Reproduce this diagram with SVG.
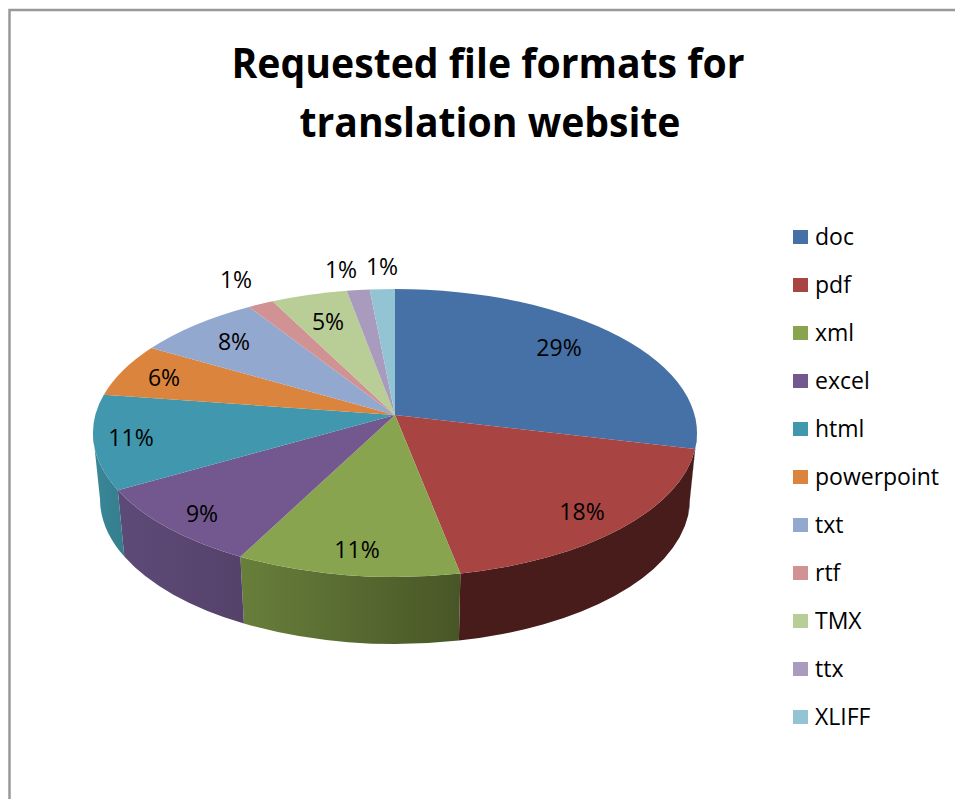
<svg xmlns="http://www.w3.org/2000/svg" width="955" height="799" viewBox="0 0 955 799">
<style>
.lbl{font-family:"Open Sans","Liberation Sans",sans-serif;font-size:23px;fill:#000;text-anchor:middle}
.leg{font-family:"Open Sans","Liberation Sans",sans-serif;font-size:23px;fill:#000}
.title{font-family:"Open Sans","Liberation Sans",sans-serif;font-size:42px;font-weight:bold;fill:#000;text-anchor:middle}
</style>
<defs>
<linearGradient id="gXml" x1="0" y1="0" x2="1" y2="0"><stop offset="0" stop-color="#687f3b"/><stop offset="1" stop-color="#485627"/></linearGradient>
<linearGradient id="gExcel" x1="0" y1="0" x2="1" y2="0"><stop offset="0" stop-color="#5e4a78"/><stop offset="1" stop-color="#55426a"/></linearGradient>
<linearGradient id="gHtml" x1="0" y1="0" x2="1" y2="0"><stop offset="0" stop-color="#3a8898"/><stop offset="1" stop-color="#347d8d"/></linearGradient>
</defs>
<rect x="0" y="0" width="955" height="799" fill="#fff"/>
<path d="M9.5 799 V10 H955" fill="none" stroke="#999" stroke-width="2.5"/>
<text class="title" x="488" y="78" textLength="513" lengthAdjust="spacingAndGlyphs">Requested file formats for</text>
<text class="title" x="490" y="137" textLength="381" lengthAdjust="spacingAndGlyphs">translation website</text>
<g id="walls">
<path d="M697 433 A302 144 0 0 1 695.1 449.1 L688.2 515.2 A295 145 0 0 0 690 499 Z" fill="#2c4a70"/>
<path d="M695.1 449.1 A302 144 0 0 1 460.4 573.6 L458.9 640.6 A295 145 0 0 0 688.2 515.2 Z" fill="#471c1b"/>
<path d="M460.4 573.6 A302 144 0 0 1 240.4 556.7 L243.9 623.5 A295 145 0 0 0 458.9 640.6 Z" fill="url(#gXml)"/>
<path d="M240.4 556.7 A302 144 0 0 1 117.8 490.2 L124.3 556.6 A295 145 0 0 0 243.9 623.5 Z" fill="url(#gExcel)"/>
<path d="M117.8 490.2 A302 144 0 0 1 93 433 L100 499 A295 145 0 0 0 124.3 556.6 Z" fill="url(#gHtml)"/>
</g>
<g id="slice-doc"><path d="M395 415 L395 289 A302 144 0 0 1 695.1 449.1 Z" fill="#4571a6"/></g>
<g id="slice-pdf"><path d="M395 415 L695.1 449.1 A302 144 0 0 1 460.4 573.6 Z" fill="#a84441"/></g>
<g id="slice-xml"><path d="M395 415 L460.4 573.6 A302 144 0 0 1 240.4 556.7 Z" fill="#88a44e"/></g>
<g id="slice-excel"><path d="M395 415 L240.4 556.7 A302 144 0 0 1 117.8 490.2 Z" fill="#72588e"/></g>
<g id="slice-html"><path d="M395 415 L117.8 490.2 A302 144 0 0 1 103.8 394.8 Z" fill="#4197ad"/></g>
<g id="slice-powerpoint"><path d="M395 415 L103.8 394.8 A302 144 0 0 1 151.3 348 Z" fill="#db843d"/></g>
<g id="slice-txt"><path d="M395 415 L151.3 348 A302 144 0 0 1 249 306.9 Z" fill="#93a8cf"/></g>
<g id="slice-rtf"><path d="M395 415 L249 306.9 A302 144 0 0 1 272.6 301.3 Z" fill="#d09292"/></g>
<g id="slice-TMX"><path d="M395 415 L272.6 301.3 A302 144 0 0 1 346.7 290.8 Z" fill="#b9cd96"/></g>
<g id="slice-ttx"><path d="M395 415 L346.7 290.8 A302 144 0 0 1 369.7 289.5 Z" fill="#a99bbd"/></g>
<g id="slice-XLIFF"><path d="M395 415 L369.7 289.5 A302 144 0 0 1 395 289 Z" fill="#93c4d4"/></g>
<g id="labels">
<text class="lbl" x="559" y="356">29%</text>
<text class="lbl" x="582" y="520">18%</text>
<text class="lbl" x="357" y="558">11%</text>
<text class="lbl" x="202" y="522">9%</text>
<text class="lbl" x="131" y="446">11%</text>
<text class="lbl" x="164" y="386">6%</text>
<text class="lbl" x="234" y="350">8%</text>
<text class="lbl" x="328" y="330">5%</text>
<text class="lbl" x="236" y="288">1%</text>
<text class="lbl" x="341" y="278">1%</text>
<text class="lbl" x="382" y="275">1%</text>
</g>
<g id="legend">
<g id="leg-doc"><rect x="793" y="230" width="15" height="14" fill="#4571a6"/><text class="leg" x="815" y="245">doc</text></g>
<g id="leg-pdf"><rect x="793" y="278" width="15" height="14" fill="#a84441"/><text class="leg" x="815" y="293">pdf</text></g>
<g id="leg-xml"><rect x="793" y="326" width="15" height="14" fill="#88a44e"/><text class="leg" x="815" y="341">xml</text></g>
<g id="leg-excel"><rect x="793" y="374" width="15" height="14" fill="#72588e"/><text class="leg" x="815" y="389">excel</text></g>
<g id="leg-html"><rect x="793" y="422" width="15" height="14" fill="#4197ad"/><text class="leg" x="815" y="437">html</text></g>
<g id="leg-powerpoint"><rect x="793" y="470" width="15" height="14" fill="#db843d"/><text class="leg" x="815" y="485">powerpoint</text></g>
<g id="leg-txt"><rect x="793" y="518" width="15" height="14" fill="#93a8cf"/><text class="leg" x="815" y="533">txt</text></g>
<g id="leg-rtf"><rect x="793" y="566" width="15" height="14" fill="#d09292"/><text class="leg" x="815" y="581">rtf</text></g>
<g id="leg-TMX"><rect x="793" y="614" width="15" height="14" fill="#b9cd96"/><text class="leg" x="815" y="629">TMX</text></g>
<g id="leg-ttx"><rect x="793" y="662" width="15" height="14" fill="#a99bbd"/><text class="leg" x="815" y="677">ttx</text></g>
<g id="leg-XLIFF"><rect x="793" y="710" width="15" height="14" fill="#93c4d4"/><text class="leg" x="815" y="725">XLIFF</text></g>
</g>
</svg>
